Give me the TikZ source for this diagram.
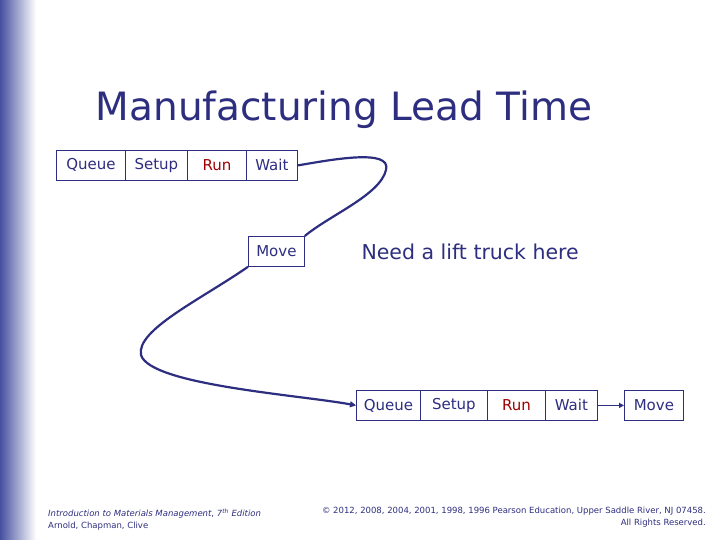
\documentclass[tikz,border=0pt]{standalone}
\usepackage{fontspec}
\setmainfont{DejaVu Sans}
\usetikzlibrary{arrows.meta}
\definecolor{navy}{HTML}{2E2E80}
\definecolor{runred}{HTML}{A00000}
\begin{document}
\begin{tikzpicture}[x=1pt,y=-1pt,
  cell/.style={draw=navy,line width=0.8pt,text=navy,minimum height=30pt,inner sep=0pt,anchor=north west,font=\fontsize{15}{17}\selectfont},
  conn/.style={draw=navy,line width=2.2pt}]
\useasboundingbox (0,0) rectangle (720,540);
\fill[white] (0,0) rectangle (720,540);
\shade[left color={rgb,255:red,70;green,80;blue,160},right color=white] (0,0) rectangle (36,540);
\node[text=navy,font=\fontsize{39}{42}\selectfont] (title) at (344,110) {Manufacturing Lead Time};
% top row
\node[cell,minimum width=69pt] (q1) at (56,150) {Queue};
\node[cell,minimum width=62pt] (s1) at (125,150) {Setup};
\node[cell,minimum width=59pt,text=runred] (r1) at (187,150) {Run};
\node[cell,minimum width=51pt] (w1) at (246,150) {Wait};
\node[cell,minimum width=56pt] (m1) at (248,236) {Move};
\node[text=navy,font=\fontsize{20.5}{23}\selectfont,anchor=west] (need) at (358,252) {Need a lift truck here};
% bottom row
\node[cell,minimum width=64pt] (q2) at (356,390) {Queue};
\node[cell,minimum width=67pt] (s2) at (420,390) {Setup};
\node[cell,minimum width=58pt,text=runred] (r2) at (487,390) {Run};
\node[cell,minimum width=52pt] (w2) at (545,390) {Wait};
\node[cell,minimum width=59pt] (m2) at (624,390) {Move};
\coordinate (l1) at (386,170);
\coordinate (l2) at (141,355);
\draw[conn] (w1.east) .. controls (330,160) and (392,148) .. (l1) .. controls (380,195) and (330,215) .. (m1.north east);
\draw[conn,-{Triangle[length=6pt,width=6pt]}] (m1.south west) .. controls (200,300) and (136,330) .. (l2) .. controls (150,385) and (300,395) .. (q2.west);
\draw[conn,line width=1.4pt,-{Triangle[length=5pt,width=5pt]}] (w2.east) -- (m2.west);
% footer
\node[anchor=north west,align=left,text=navy,font=\fontsize{8.5}{12}\selectfont,inner sep=0pt] (foot1) at (48,509) {\textit{Introduction to Materials Management}, \textit{7\textsuperscript{th} Edition}\\Arnold, Chapman, Clive};
\node[anchor=north east,align=right,text=navy,font=\fontsize{8.5}{12}\selectfont,inner sep=0pt] (foot2) at (706,507) {© 2012, 2008, 2004, 2001, 1998, 1996 Pearson Education, Upper Saddle River, NJ 07458.\\All Rights Reserved.};
\end{tikzpicture}
\end{document}
